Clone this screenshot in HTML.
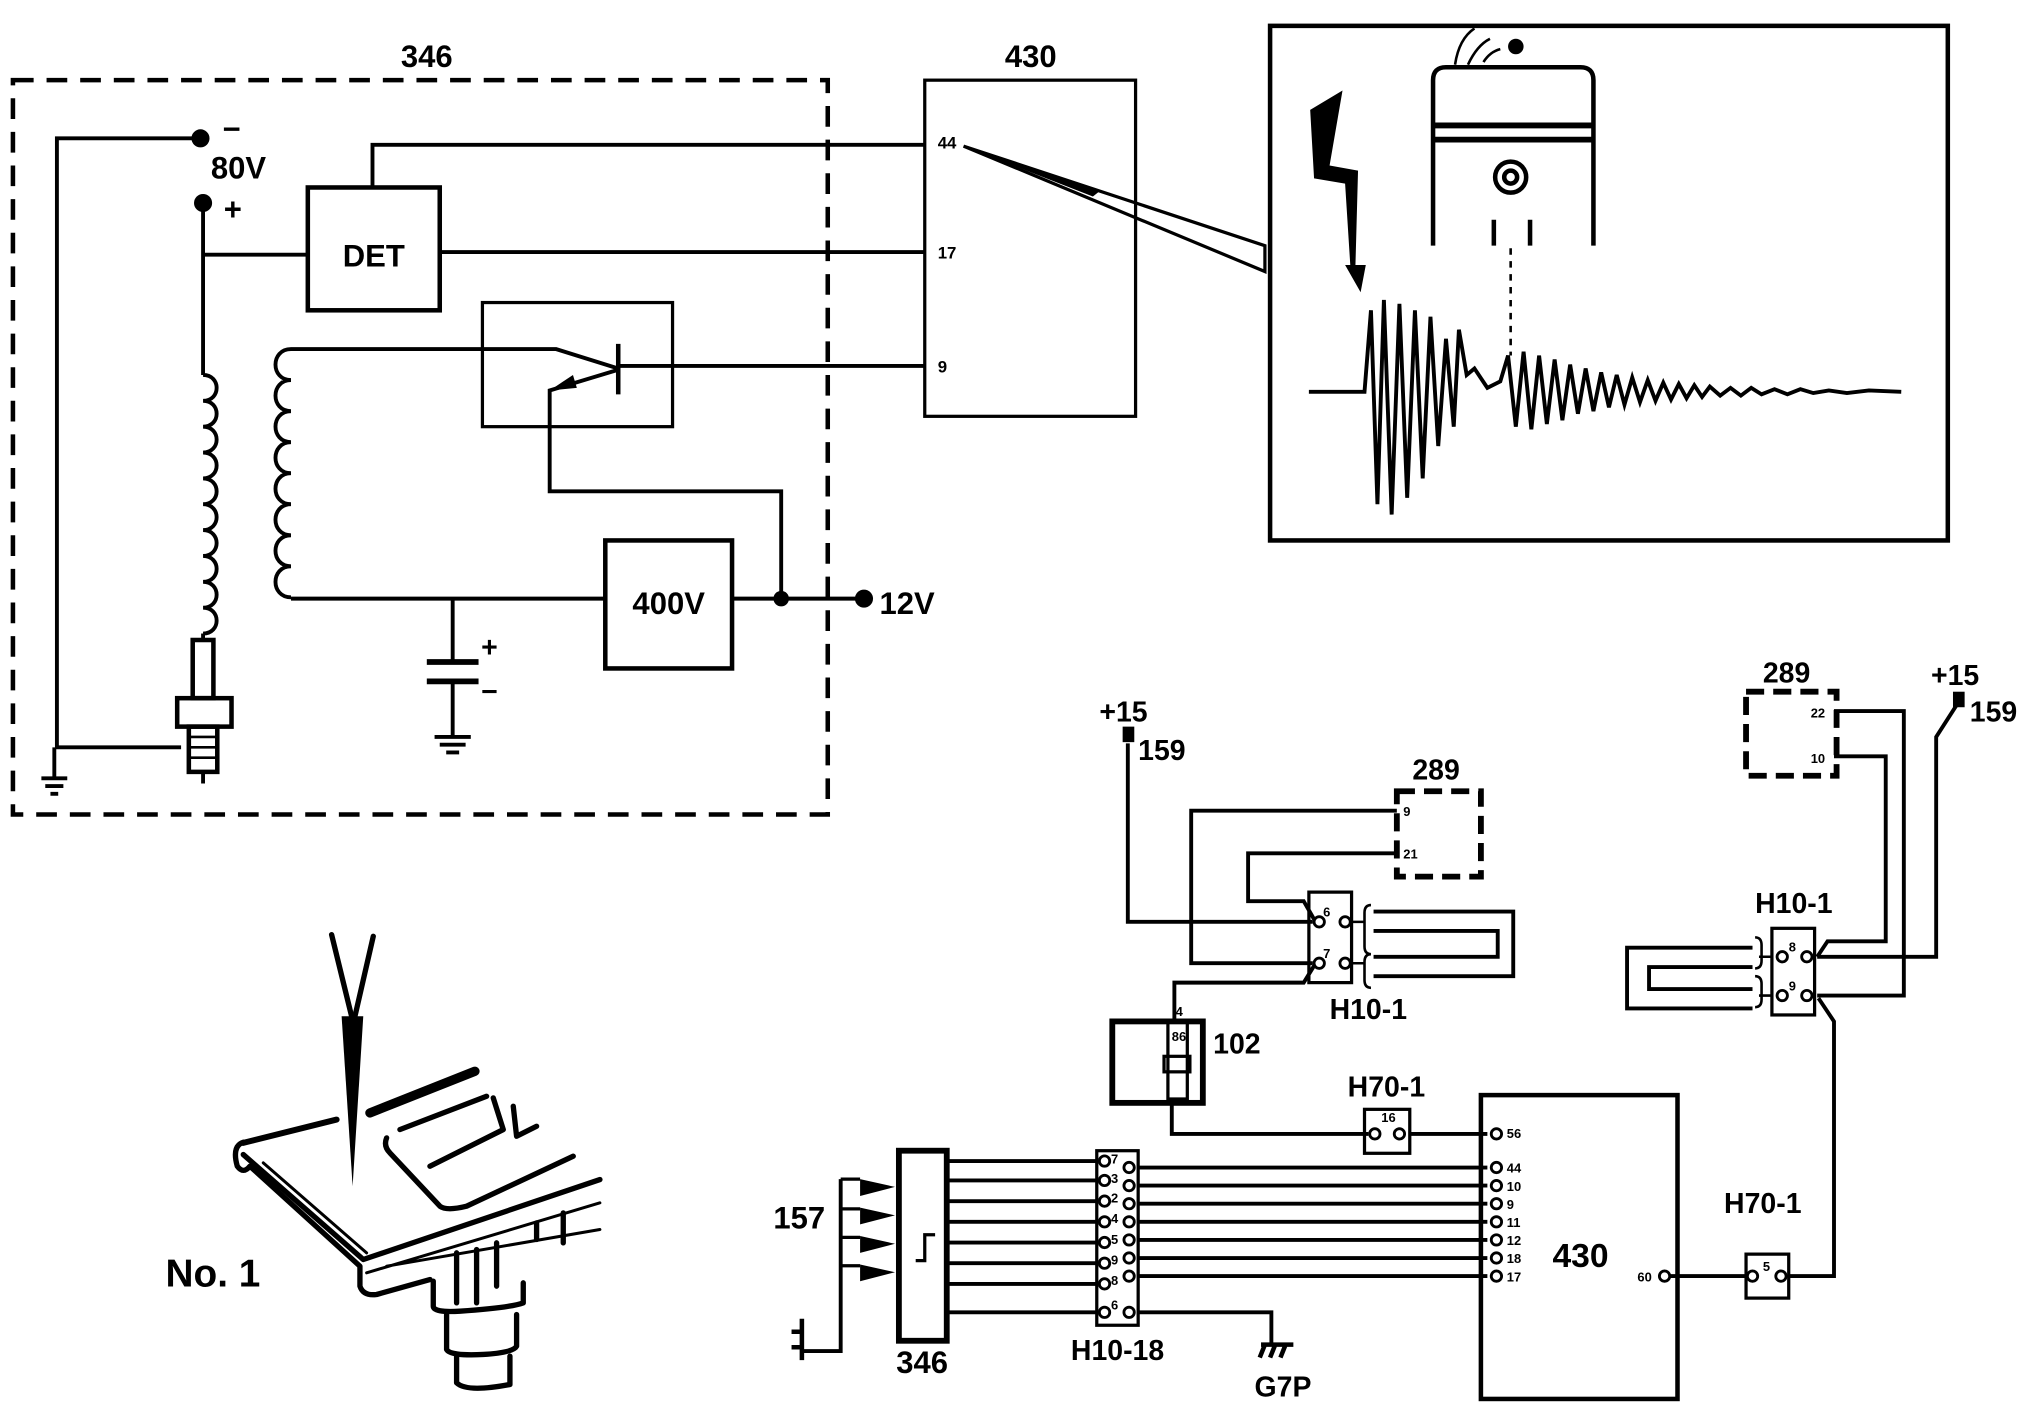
<!DOCTYPE html>
<html><head><meta charset="utf-8"><style>
html,body{margin:0;padding:0;background:#fff}
svg{display:block}
text{font-family:"Liberation Sans",Arial,sans-serif;fill:#000;font-weight:bold}
</style></head><body>
<svg width="2028" height="1408" viewBox="0 0 1568 1089" preserveAspectRatio="none" xmlns="http://www.w3.org/2000/svg">
<g fill="none" stroke="#000" stroke-width="3">
<rect x="10" y="62" width="630" height="568" stroke-width="3.5" stroke-dasharray="16,10"/>
<polyline points="155,107 44,107 44,578 140,578"/>
<path d="M32,602 h20 M35,608 h14 M39,614 h6 M42,578 v24"/>
<polyline points="157,157 157,290"/>
<path d="M157,290 c14,0 14,20 0,20 c14,0 14,20 0,20 c14,0 14,20 0,20 c14,0 14,20 0,20 c14,0 14,20 0,20 c14,0 14,20 0,20 c14,0 14,20 0,20 c14,0 14,20 0,20 c14,0 14,20 0,20 c14,0 14,20 0,20"/>
<line x1="157" y1="490" x2="157" y2="495"/>
<rect x="149" y="495" width="16" height="45" stroke-width="3.5"/>
<rect x="137" y="540" width="42" height="22" stroke-width="3.5"/>
<rect x="146" y="562" width="22" height="35" stroke-width="3.5"/>
<path d="M146,570 h22 M146,578 h22 M146,586 h22" stroke-width="2"/>
<line x1="157" y1="597" x2="157" y2="606"/>
<line x1="157" y1="197" x2="238" y2="197"/>
<rect x="238" y="145" width="102" height="95" stroke-width="3.5"/>
<polyline points="288,145 288,112 715,112"/>
<line x1="340" y1="195" x2="715" y2="195"/>
<rect x="715" y="62" width="163" height="260" stroke-width="2.5"/>
<rect x="373" y="234" width="147" height="96" stroke-width="2.5"/>
<line x1="478" y1="266" x2="478" y2="305" stroke-width="3.5"/>
<polyline points="225,270 430,270 478,285"/>
<line x1="478" y1="283" x2="715" y2="283"/>
<polyline points="478,286 425,302 425,380 604,380 604,463"/>
<path d="M230,270 c-16,0 -16,24 0,24 c-16,0 -16,24 0,24 c-16,0 -16,24 0,24 c-16,0 -16,24 0,24 c-16,0 -16,24 0,24 c-16,0 -16,24 0,24 c-16,0 -16,24 0,24 c-16,0 -16,24 0,24" transform="translate(-5,0)"/>
<polyline points="225,463 468,463"/>
<rect x="468" y="418" width="98" height="99" stroke-width="3.5"/>
<line x1="566" y1="463" x2="668" y2="463"/>
<polyline points="350,463 350,512"/>
<line x1="330" y1="512" x2="370" y2="512" stroke-width="4.5"/>
<line x1="330" y1="527" x2="370" y2="527" stroke-width="4.5"/>
<polyline points="350,527 350,570"/>
<path d="M336,570 h28 M340,576 h20 M345,582 h10"/>
</g>
<polygon points="425,302 443,290 446,300" fill="#000"/>
<circle cx="155" cy="107" r="7"/><circle cx="157" cy="157" r="7"/>
<circle cx="604" cy="463" r="6"/><circle cx="668" cy="463" r="7"/>
<text x="330" y="52" font-size="24" text-anchor="middle">346</text>
<text x="797" y="52" font-size="24" text-anchor="middle">430</text>
<text x="172" y="108" font-size="24">−</text>
<text x="163" y="138" font-size="24">80V</text>
<text x="173" y="170" font-size="24">+</text>
<text x="289" y="206" font-size="24" text-anchor="middle">DET</text>
<text x="517" y="475" font-size="24" text-anchor="middle">400V</text>
<text x="680" y="475" font-size="24">12V</text>
<text x="372" y="508" font-size="22">+</text>
<text x="372" y="542" font-size="22">−</text>
<text x="725" y="115" font-size="13">44</text>
<text x="725" y="200" font-size="13">17</text>
<text x="725" y="288" font-size="13">9</text>
<polygon points="745,113 978,190 978,210" fill="none" stroke="#000" stroke-width="2.5"/>
<polygon points="745,113 850,148 845,152" fill="#000"/>
<rect x="982" y="20" width="524" height="398" fill="none" stroke="#000" stroke-width="3.5"/>
<g fill="none" stroke="#000" stroke-width="3.5">
<path d="M1108,190 V62 Q1108,52 1118,52 H1222 Q1232,52 1232,62 V190"/>
<line x1="1108" y1="97" x2="1232" y2="97" stroke-width="4.5"/>
<line x1="1108" y1="108" x2="1232" y2="108" stroke-width="4.5"/>
<circle cx="1168" cy="137" r="12"/><circle cx="1168" cy="137" r="5"/>
<path d="M1155,170 V190 M1183,170 V190"/>
<line x1="1168" y1="192" x2="1168" y2="275" stroke-dasharray="5,5" stroke-width="2"/>
<path d="M1125,50 Q1128,30 1140,22 M1135,50 Q1142,35 1152,30 M1147,48 Q1152,40 1160,38" stroke-width="2"/>
<path d="M1012,303 L1055,303 L1060,240 L1065,390 L1070,232 L1076,398 L1082,235 L1088,385 L1094,240 L1100,370 L1106,245 L1112,345 L1118,262 L1124,330 L1128,255 L1134,290 L1140,285 L1150,300 L1160,295 L1166,275 L1172,330 L1178,272 L1184,332 L1190,275 L1196,328 L1202,278 L1208,325 L1214,282 L1220,320 L1226,285 L1232,318 L1238,288 L1244,315 L1250,290 L1256,313 L1262,292 L1268,311 L1274,294 L1280,310 L1286,296 L1292,309 L1298,297 L1304,308 L1310,298 L1316,307 L1322,299 L1330,306 L1338,300 L1346,306 L1354,300 L1362,305 L1372,301 L1382,305 L1392,301 L1402,304 L1414,302 L1428,304 L1445,302 L1470,303" stroke-width="3"/>
</g>
<polygon points="1013,85 1038,70 1028,128 1050,132 1048,205 1056,205 1052,226 1040,205 1044,205 1040,142 1016,138" fill="#000"/>
<circle cx="1172" cy="36" r="6"/>
<g transform="translate(154.6,711.3) scale(0.2577)" fill="none" stroke="#000" stroke-width="16" stroke-linecap="round" stroke-linejoin="round">
<line x1="395" y1="45" x2="455" y2="290"/><line x1="520" y1="50" x2="465" y2="290"/>
<polygon points="425,290 490,290 458,800" fill="#000" stroke="none"/>
<line x1="130" y1="670" x2="410" y2="600" stroke-width="18"/>
<line x1="510" y1="580" x2="825" y2="455" stroke-width="28"/>
<path d="M130,668 Q95,680 112,740 Q130,765 150,740 L480,1040 L480,1100 Q490,1130 530,1125 L690,1080"/>
<path d="M130,705 L490,1020 L1200,780"/>
<path d="M190,730 L500,1000" stroke-width="9"/>
<path d="M560,655 Q550,680 570,700 L720,860 Q740,875 800,860 L1120,710"/>
<path d="M600,630 L860,530 M880,535 L910,630 L690,740 M940,560 L950,650 L1010,620"/>
<path d="M500,1060 L1200,850 M560,1040 L1200,930" stroke-width="9"/>
<path d="M700,1085 V1160 Q700,1180 780,1175 Q930,1165 970,1150 V1090"/>
<path d="M740,1185 V1290 Q750,1310 850,1305 Q940,1300 950,1280 V1185"/>
<path d="M770,1310 V1390 Q800,1420 930,1395 V1310"/>
<path d="M770,1000 V1150 M830,990 V1150 M890,970 V1100 M1090,880 V970 M1010,910 V960"/>
</g>
<text x="128" y="995" font-size="30">No. 1</text>
<g fill="none" stroke="#000" stroke-width="3">
<polyline points="872,575 872,713 1015,713"/>
<rect x="1080" y="612" width="65" height="66" stroke-width="4.5" stroke-dasharray="14,7"/>
<polyline points="1080,627 921,627 921,745 1015,745"/>
<polyline points="1080,660 965,660 965,697 1008,697 1016,711"/>
<rect x="1012" y="690" width="33" height="70" stroke-width="2.5"/>
<path d="M1045,713 h10 M1045,745 h10 M1060,700 q-5,0 -5,6 v26 q0,6 5,6 M1060,738 q-5,0 -5,6 v14 q0,6 5,6" stroke-width="2"/>
<polyline points="1062,705 1170,705 1170,755 1062,755"/>
<polyline points="1062,720 1158,720 1158,740 1062,740"/>
<polyline points="1016,747 1008,760 908,760 908,790"/>
<rect x="860" y="790" width="70" height="63" stroke-width="4.5"/>
<rect x="903" y="790" width="15" height="60" stroke-width="2.5"/>
<rect x="900" y="817" width="20" height="12" stroke-width="2.5"/>
<polyline points="906,853 906,877 1058,877"/>
<rect x="1055" y="858" width="35" height="34" stroke-width="2.5"/>
<line x1="1090" y1="877" x2="1150" y2="877"/>
<rect x="1145" y="847" width="152" height="235" stroke-width="3.5"/>
<polyline points="1290,987 1350,987"/>
<rect x="1350" y="970" width="33" height="34" stroke-width="2.5"/>
<polyline points="1383,987 1418,987 1418,790 1406,772"/>
<rect x="1370" y="718" width="33" height="67" stroke-width="2.5"/>
<path d="M1370,740 h-10 M1370,770 h-10 M1357,725 q5,0 5,6 v12 q0,6 -5,6 M1357,755 q5,0 5,6 v12 q0,6 -5,6" stroke-width="2"/>
<polyline points="1355,733 1258,733 1258,780 1355,780"/>
<polyline points="1355,748 1275,748 1275,765 1355,765"/>
<rect x="1350" y="535" width="70" height="65" stroke-width="4.5" stroke-dasharray="14,7"/>
<polyline points="1418,550 1472,550 1472,770 1405,770"/>
<polyline points="1418,585 1458,585 1458,728 1413,728 1405,740"/>
<polyline points="1513,545 1497,570 1497,740 1405,740"/>
<rect x="695" y="890" width="37" height="147" stroke-width="4.5"/>
<path d="M708,975 h7 v-20 h8" stroke-width="2.5"/>
<g stroke-width="3">
<line x1="732" y1="898" x2="848" y2="898"/><line x1="732" y1="913" x2="848" y2="913"/>
<line x1="732" y1="929" x2="848" y2="929"/><line x1="732" y1="945" x2="848" y2="945"/>
<line x1="732" y1="961" x2="848" y2="961"/><line x1="732" y1="977" x2="848" y2="977"/>
<line x1="732" y1="993" x2="848" y2="993"/><line x1="732" y1="1015" x2="848" y2="1015"/>
<line x1="880" y1="903" x2="1150" y2="903"/><line x1="880" y1="917" x2="1150" y2="917"/>
<line x1="880" y1="931" x2="1150" y2="931"/><line x1="880" y1="945" x2="1150" y2="945"/>
<line x1="880" y1="959" x2="1150" y2="959"/><line x1="880" y1="973" x2="1150" y2="973"/>
<line x1="880" y1="987" x2="1150" y2="987"/>
</g>
<rect x="848" y="890" width="32" height="135" stroke-width="2.5"/>
<polyline points="880,1015 983,1015 983,1040"/>
<path d="M975,1040 h25 M978,1040 l-4,10 M986,1040 l-4,10 M994,1040 l-4,10" stroke-width="3.5"/>
<polyline points="650,912 650,1045 620,1045"/>
<path d="M620,1020 v32 M612,1030 h8 M612,1042 h8" stroke-width="3.5"/>
<path d="M650,912 h15 M650,935 h15 M650,957 h15 M650,979 h15" stroke-width="2.5"/>
</g>
<g fill="#fff" stroke="#000" stroke-width="2.2">
<circle cx="1020" cy="713" r="4"/><circle cx="1040" cy="713" r="4"/>
<circle cx="1020" cy="745" r="4"/><circle cx="1040" cy="745" r="4"/>
<circle cx="1063" cy="877" r="4"/><circle cx="1082" cy="877" r="4"/>
<circle cx="1355" cy="987" r="4"/><circle cx="1377" cy="987" r="4"/>
<circle cx="1378" cy="740" r="4"/><circle cx="1397" cy="740" r="4"/>
<circle cx="1378" cy="770" r="4"/><circle cx="1397" cy="770" r="4"/>
<circle cx="1157" cy="877" r="4"/><circle cx="1157" cy="903" r="4"/><circle cx="1157" cy="917" r="4"/><circle cx="1157" cy="931" r="4"/><circle cx="1157" cy="945" r="4"/><circle cx="1157" cy="959" r="4"/><circle cx="1157" cy="973" r="4"/><circle cx="1157" cy="987" r="4"/>
<circle cx="1287" cy="987" r="4"/>
<circle cx="854" cy="898" r="4"/><circle cx="873" cy="903" r="4"/>
<circle cx="854" cy="913" r="4"/><circle cx="873" cy="917" r="4"/>
<circle cx="854" cy="929" r="4"/><circle cx="873" cy="931" r="4"/>
<circle cx="854" cy="945" r="4"/><circle cx="873" cy="945" r="4"/>
<circle cx="854" cy="961" r="4"/><circle cx="873" cy="959" r="4"/>
<circle cx="854" cy="977" r="4"/><circle cx="873" cy="973" r="4"/>
<circle cx="854" cy="993" r="4"/><circle cx="873" cy="987" r="4"/>
<circle cx="854" cy="1015" r="4"/><circle cx="873" cy="1015" r="4"/>
</g>
<g fill="#000">
<polygon points="665,912 692,918 665,925"/><polygon points="665,934 692,940 665,947"/>
<polygon points="665,956 692,962 665,969"/><polygon points="665,978 692,984 665,991"/>
<rect x="868" y="562" width="9" height="12"/><rect x="1510" y="535" width="9" height="12"/>
</g>
<g font-size="10">
<text x="1023" y="709">6</text><text x="1023" y="741">7</text>
<text x="1068" y="868">16</text><text x="1363" y="983">5</text>
<text x="1383" y="736">8</text><text x="1383" y="766">9</text>
<text x="1085" y="631">9</text><text x="1085" y="664">21</text>
<text x="1400" y="555">22</text><text x="1400" y="590">10</text>
<text x="909" y="786">4</text><text x="906" y="805">86</text>
<text x="1165" y="880">56</text><text x="1165" y="907">44</text><text x="1165" y="921">10</text><text x="1165" y="935">9</text><text x="1165" y="949">11</text><text x="1165" y="963">12</text><text x="1165" y="977">18</text><text x="1165" y="991">17</text>
<text x="1266" y="991">60</text>
<text x="859" y="900">7</text><text x="859" y="915">3</text><text x="859" y="930">2</text><text x="859" y="946">4</text><text x="859" y="962">5</text><text x="859" y="978">9</text><text x="859" y="994">8</text><text x="859" y="1013">6</text>
</g>
<g font-size="22">
<text x="850" y="558">+15</text><text x="880" y="588">159</text>
<text x="1092" y="603">289</text><text x="1028" y="788">H10-1</text>
<text x="938" y="815">102</text><text x="1042" y="848">H70-1</text>
<text x="1222" y="980" text-anchor="middle" font-size="26">430</text>
<text x="1333" y="938">H70-1</text><text x="1357" y="706">H10-1</text>
<text x="1363" y="528">289</text><text x="1493" y="530">+15</text><text x="1523" y="558">159</text>
<text x="598" y="950" font-size="24">157</text>
<text x="693" y="1062" font-size="24">346</text>
<text x="828" y="1052">H10-18</text>
<text x="970" y="1080">G7P</text>
</g>
</svg>
</body></html>
